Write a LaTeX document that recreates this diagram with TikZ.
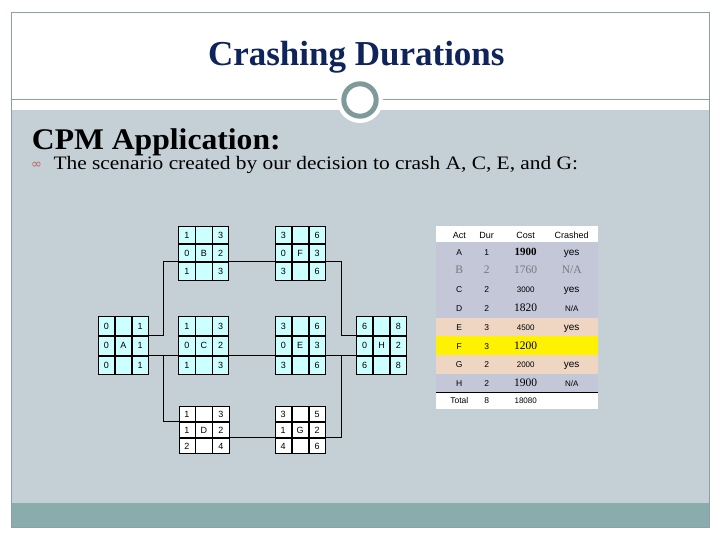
\documentclass[tikz,border=0pt]{standalone}
\usepackage{fontspec}
\usepackage{graphicx}
\setmainfont{Liberation Serif}
\newfontfamily\sansf{Liberation Sans}
\newfontfamily\symf{DejaVu Sans}
\usetikzlibrary{matrix,calc}
\definecolor{bodygray}{RGB}{197,207,214}
\definecolor{bandteal}{RGB}{138,172,172}
\definecolor{framegray}{RGB}{140,160,165}
\definecolor{ringcol}{RGB}{126,154,155}
\definecolor{titleblue}{RGB}{14,36,90}
\definecolor{cyanfill}{RGB}{204,255,255}
\definecolor{lav}{RGB}{195,199,216}
\definecolor{rowtan}{RGB}{238,214,194}
\definecolor{bulletred}{RGB}{190,100,90}
\definecolor{bgray}{RGB}{120,120,120}
\newcommand\fsans{\sansf\fontsize{8.5}{10}\selectfont}
\newcommand\fhead{\sansf\fontsize{9}{10}\selectfont}
\newcommand\fyes{\sansf\fontsize{10}{11}\selectfont}
\newcommand\fsmall{\sansf\fontsize{8}{9}\selectfont}
\newcommand\fser{\rmfamily\fontsize{11.5}{12}\selectfont}
\newcommand\fserb{\rmfamily\bfseries\fontsize{11}{12}\selectfont}
\newcommand\fgray{\color{bgray}\rmfamily\fontsize{11.5}{12}\selectfont}
\newcommand\trow[6]{%
  \node[tt] (#1-a) at (459.3,#2) {#3};
  \node[tt] (#1-d) at (486.7,#2) {#4};
  \node[tt] (#1-c) at (525.7,#2) {#5};
  \node[tt] (#1-r) at (571.7,#2) {#6};}
\tikzset{
  cell/.style={draw=black, line width=0.7pt, minimum width=16.2pt, inner sep=0pt,
    outer sep=0pt, anchor=center, text height=6.5pt, text depth=0pt,
    font=\sansf\fontsize{9}{10}\selectfont},
  cpm/.style={matrix of nodes, nodes in empty cells, inner sep=0pt, outer sep=0pt,
    column sep=0pt, row sep=0pt, nodes={cell}},
  conn/.style={draw=black, line width=0.8pt},
  tt/.style={anchor=base, inner sep=0pt},
}
\begin{document}
\begin{tikzpicture}[x=1pt,y=-1pt]
\useasboundingbox (0,0) rectangle (720,540);
\fill[white] (0,0) rectangle (720,540);
% slide
\fill[bodygray] (11,110) rectangle (709,503);
\fill[bandteal] (11,503) rectangle (709,527);
\draw[framegray, line width=0.8pt] (11,12) rectangle (709,527);
\draw[framegray, line width=1pt] (11,100) -- (709,100);
\fill[white] (360,100) circle (23pt);
\draw[ringcol, line width=5pt] (360,100) circle (16.2pt);
% texts
\node[anchor=base, inner sep=0pt, text=titleblue, font=\bfseries\fontsize{35}{40}\selectfont] (title) at (356.3,66) {Crashing Durations};
\node[anchor=base west, inner sep=0pt, font=\bfseries\fontsize{30}{34}\selectfont] (cpm) at (31.7,150) {\scalebox{1.055}[1]{CPM Application:}};
\node[anchor=base west, inner sep=0pt, text=bulletred, font=\symf\fontsize{13}{13}\selectfont] (bul) at (31,169) {∞};
\node[anchor=base west, inner sep=0pt, font=\fontsize{19}{22}\selectfont] (sub) at (53.3,170) {\scalebox{1.126}[1]{The scenario created by our decision to crash A, C, E, and G:}};
% network
\matrix (A) [cpm, nodes={fill=cyanfill, minimum height=18.9pt}] at (123.3,345.7) {0 & & 1\\ 0 & A & 1\\ 0 & & 1\\};
\matrix (C) [cpm, nodes={fill=cyanfill, minimum height=18.9pt}] at (203.8,345.7) {1 & & 3\\ 0 & C & 2\\ 1 & & 3\\};
\matrix (E) [cpm, nodes={fill=cyanfill, minimum height=18.9pt}] at (300.2,345.7) {3 & & 6\\ 0 & E & 3\\ 3 & & 6\\};
\matrix (H) [cpm, nodes={fill=cyanfill, minimum height=18.9pt}] at (381.5,345.7) {6 & & 8\\ 0 & H & 2\\ 6 & & 8\\};
\matrix (B) [cpm, nodes={fill=cyanfill, minimum height=17.5pt}] at (203.8,253) {1 & & 3\\ 0 & B & 2\\ 1 & & 3\\};
\matrix (F) [cpm, nodes={fill=cyanfill, minimum height=17.5pt}] at (300.2,253) {3 & & 6\\ 0 & F & 3\\ 3 & & 6\\};
\matrix (D) [cpm, nodes={fill=white, minimum height=15.1pt}] at (203.9,430) {1 & & 3\\ 1 & D & 2\\ 2 & & 4\\};
\matrix (G) [cpm, nodes={fill=white, minimum height=15.1pt}] at (300.1,430) {3 & & 5\\ 1 & G & 2\\ 4 & & 6\\};
\coordinate (jL) at (163.3,0);
\coordinate (jR) at (341,0);
\draw[conn] (A-1-3.south east) -- (A-1-3.south east -| jL) |- (B-2-1.south west);
\draw[conn] (B-2-3.south east) -- (F-2-1.south west);
\draw[conn] (F-2-3.south east) -- (F-2-3.south east -| jR) |- (H-1-1.south west);
\draw[conn] (A-2-3.south east) -- (C-2-1.south west);
\draw[conn] (C-2-3.south east) -- (E-2-1.south west);
\draw[conn] (E-2-3.south east) -- (H-2-1.south west);
\draw[conn] (A-2-3.south east -| jL) |- (D-1-1.south west);
\draw[conn] (D-2-3.south east) -- (G-2-1.south west);
\draw[conn] (G-2-3.south east) -| (H-2-1.south west -| jR);
% table
\fill[white] (436,226.5) rectangle (598,242.3);
\fill[lav] (436,242.3) rectangle (598,317.5);
\fill[rowtan] (436,317.5) rectangle (598,336.3);
\fill[yellow] (436,336.3) rectangle (598,355.1);
\fill[rowtan] (436,355.1) rectangle (598,373.9);
\fill[lav] (436,373.9) rectangle (598,392.7);
\fill[white] (436,392.7) rectangle (598,409.3);
\draw[line width=0.8pt] (436,392.7) -- (598,392.7);
\trow{hd}{238.3}{\fhead Act}{\fhead Dur}{\fhead Cost}{\fhead Crashed}
\trow{ra}{255}{\fsans A}{\fsans 1}{\fserb 1900}{\fyes yes}
\trow{rb}{273.8}{\fgray B}{\fgray 2}{\fgray 1760}{\fgray N/A}
\trow{rc}{292.6}{\fsans C}{\fsans 2}{\fsmall 3000}{\fyes yes}
\trow{rd}{311.4}{\fsans D}{\fsans 2}{\fser 1820}{\fsmall N/A}
\trow{re}{330.2}{\fsans E}{\fsans 3}{\fsmall 4500}{\fyes yes}
\node[tt] (rf-a) at (459.3,349) {\fsans F};
\node[tt] (rf-d) at (486.7,349) {\fsans 3};
\node[tt] (rf-c) at (525.7,349) {\fser 1200};
\trow{rg}{367.8}{\fsans G}{\fsans 2}{\fsmall 2000}{\fyes yes}
\trow{rh}{386.6}{\fsans H}{\fsans 2}{\fser 1900}{\fsmall N/A}
\node[tt] (tot-a) at (459.3,403.5) {\fsans Total};
\node[tt] (tot-d) at (486.7,403.5) {\fsans 8};
\node[tt] (tot-c) at (525.7,403.5) {\fsmall 18080};
\end{tikzpicture}
\end{document}
